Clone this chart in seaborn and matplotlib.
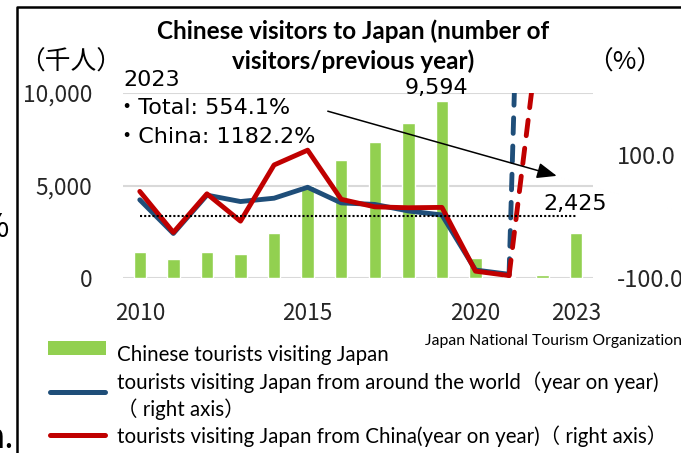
import numpy as np
import pandas as pd
import matplotlib
matplotlib.use("Agg")
import matplotlib.pyplot as plt
import seaborn as sns
from matplotlib.lines import Line2D
from matplotlib.patches import Rectangle

# ---- data -------------------------------------------------------------
years = [2010, 2011, 2012, 2013, 2014, 2015, 2016,
         2017, 2018, 2019, 2020, 2021, 2022, 2023]
# Chinese visitors to Japan (thousand people)
china_visitors = [1413, 1044, 1425, 1314, 2409, 4994, 6373,
                  7356, 8380, 9594, 1069, 42, 189, 2425]
# year-on-year change (%), all visitors
world_yoy = [26.8, -27.8, 34.4, 24.0, 29.4, 47.1, 21.8,
             19.3, 8.7, 2.2, -87.1, -94.0, 1779.4, 554.1]
# year-on-year change (%), visitors from China
china_yoy = [40.4, -26.1, 36.5, -7.8, 83.3, 107.3, 27.6,
             15.4, 13.9, 14.5, -88.9, -96.1, 347.8, 1182.2]
shown_years = [2010, 2015, 2020, 2023]
left_ticks = [0, 5000, 10000]
right_ticks = [-100, 100]

title = "Chinese visitors to Japan (number of\nvisitors/previous year)"
legend_labels = [
    "Chinese tourists visiting Japan",
    "tourists visiting Japan from around the world（year on year)\n（ right axis）",
    "tourists visiting Japan from China(year on year)（ right axis）",
]
note_lines = ["2023", "・Total: 554.1%", "・China: 1182.2%"]
source = "Japan National Tourism Organization"

# ---- style ------------------------------------------------------------
GREEN = "#92D050"
BLUE = "#1F4E79"
RED = "#C00000"
GRID = "#D9D9D9"

sns.set_style("white")
CJK = ["Noto Sans CJK JP", "DejaVu Sans"]
LAT = ["Lato", "Noto Sans CJK JP", "DejaVu Sans"]
NUM = ["DejaVu Sans", "Noto Sans CJK JP"]
plt.rcParams["font.family"] = CJK
plt.rcParams["font.size"] = 16.3
plt.rcParams["text.color"] = "black"

W, H = 681, 453
fig = plt.figure(figsize=(W / 100, H / 100), dpi=100)


def fx(px):
    return px / W


def fy(py):
    return 1 - py / H


df = pd.DataFrame({"year": years, "visitors": china_visitors,
                   "world": world_yoy, "china": china_yoy})
df["pos"] = np.arange(len(df))

# ---- bars (left axis) -------------------------------------------------
ax = fig.add_axes([fx(123), fy(278), fx(593) - fx(123), fy(93) - fy(278)])
sns.barplot(data=df, x="year", y="visitors", color=GREEN, saturation=1,
            width=0.37, ax=ax, zorder=2)
ax.set_ylim(0, 10000)
ax.set_yticks(left_ticks)
ax.set_yticklabels([f"{v:,}" for v in left_ticks])
ax.yaxis.grid(True, color=GRID, lw=1.5, zorder=0)
ax.set_axisbelow(True)
ax.set_xlabel("")
ax.set_ylabel("")
for s in ax.spines.values():
    s.set_visible(False)
ax.tick_params(axis="y", length=0, pad=22)
ax.tick_params(axis="x", length=0, pad=17)
tick_pos = [years.index(y) for y in shown_years]
ax.set_xticks(tick_pos)
ax.set_xticklabels([str(y) for y in shown_years])

# value labels on 2019 and 2023
for yr, dx, dy in [(2019, -5, 13), (2023, -1, 29)]:
    i = years.index(yr)
    v = china_visitors[i]
    ax.annotate(f"{v:,}", xy=(i, v), xytext=(dx, dy), textcoords="offset pixels",
                ha="center", va="center", fontsize=16, family=NUM)

# ---- lines (right axis) -----------------------------------------------
ax2 = ax.twinx()
solid = df.iloc[:12]
dashed = df.iloc[11:]
for col, colr in [("world", BLUE), ("china", RED)]:
    sns.lineplot(data=solid, x="pos", y=col, color=colr, lw=3.5, sort=False,
                 ax=ax2, solid_joinstyle="round", solid_capstyle="round")
    sns.lineplot(data=dashed, x="pos", y=col, color=colr, lw=3.5, sort=False,
                 ax=ax2, linestyle=(0, (3.2, 2.6)), dash_capstyle="round")
ax2.plot([df["pos"].iloc[0], df["pos"].iloc[-1]], [0, 0], color="black",
         lw=1.5, linestyle=(0, (1, 1)), zorder=5)
ax2.set_ylim(-100, 200)
ax2.set_yticks(right_ticks)
ax2.set_yticklabels([f"{v:.1f}" for v in right_ticks])
ax2.tick_params(axis="y", length=0, pad=17, labelsize=17)
ax2.set_ylabel("")
ax2.set_xlabel("")
for s in ax2.spines.values():
    s.set_visible(False)
ax.set_xlim(-0.5, len(years) - 0.5)

# arrow pointing to the 2023 growth rates
ax2.annotate("", xy=(12.42, 65.6), xytext=(5.6, 170.5),
             arrowprops=dict(arrowstyle="-|>,head_length=0.4,head_width=0.16",
                             color="black", lw=1.1, shrinkA=0, shrinkB=0,
                             mutation_scale=30))

# ---- texts ------------------------------------------------------------
fig.text(fx(353), fy(46), title, ha="center", va="center", fontsize=17.5,
         fontweight="bold", family=LAT, linespacing=1.32)
fig.text(fx(71), fy(63), "（千人）", ha="center", va="center", fontsize=18.5)
fig.text(fx(625), fy(63), "（%）", ha="center", va="center", fontsize=18.5)
for txt, xp, yp in [(note_lines[0], 123, 80), (note_lines[1], 116, 108),
                    (note_lines[2], 116, 137)]:
    fig.text(fx(xp), fy(yp), txt, ha="left", va="center", fontsize=16,
             family=NUM)

fig.text(fx(425), fy(345), source, ha="left", va="baseline", fontsize=11.3,
         family=LAT)

# legend keys
fig.add_artist(Rectangle((fx(48), fy(355)), fx(106) - fx(48), fy(341) - fy(355),
                         transform=fig.transFigure, color=GREEN, lw=0))
for yk, colr in [(392, BLUE), (435, RED)]:
    fig.add_artist(Line2D([fx(50), fx(105)], [fy(yk), fy(yk)], color=colr,
                          lw=3.6, solid_capstyle="round",
                          transform=fig.transFigure))
label_rows = [(legend_labels[0], 361)]
l2a, l2b = legend_labels[1].split("\n")
label_rows += [(l2a, 389), (l2b, 416), (legend_labels[2], 443)]
for txt, yb in label_rows:
    fig.text(fx(117), fy(yb), txt, ha="left", va="baseline", fontsize=14.8,
             family=LAT)

# slide frame and neighbouring slide text
fig.add_artist(Line2D([fx(17), fx(17), fx(700)], [fy(470), fy(7), fy(7)],
                      color="black", lw=1.8, transform=fig.transFigure))
fig.text(fx(9), fy(228), "%", ha="right", va="center", fontsize=23)
fig.text(fx(14), fy(448), "n.", ha="right", va="baseline", fontsize=24)

fig.savefig("out.png", dpi=100)
